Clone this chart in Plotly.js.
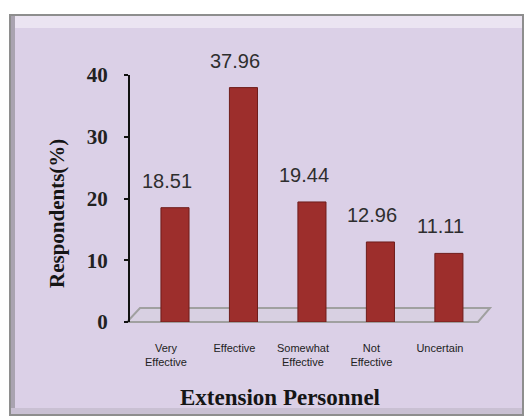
<!DOCTYPE html>
<html>
<head>
<meta charset="utf-8">
<script src="https://cdn.plot.ly/plotly-3.0.1.min.js"></script>
<style>html,body{margin:0;padding:0;background:#fff;}#chart{width:527px;height:419px;}</style>
</head>
<body>
<div id="chart"></div>
<script>
const categories = ["Very<br>Effective", "Effective", "Somewhat<br>Effective", "Not<br>Effective", "Uncertain"];
const values = [18.51, 37.96, 19.44, 12.96, 11.11];
const valueLabels = ["18.51", "37.96", "19.44", "12.96", "11.11"];
const yTicks = [0, 10, 20, 30, 40];
const xTitle = "Extension Personnel";
const yTitle = "Respondents(%)";

// pixel helpers for decoration (figure 527x419; plot area 130..490 x 75..322)
const L = 130, R = 37, T = 75, B = 97, W = 527, H = 419;
const pw = W - L - R, ph = H - T - B;
const px = v => (v - L) / pw;
const py = v => (H - B - v) / ph;

const shapes = [
  {type:'rect', xref:'paper', yref:'paper', x0:px(10), x1:px(523), y0:py(415), y1:py(15),
   fillcolor:'#dbd0e7', line:{color:'#8e8e8e', width:2}, layer:'below'},
  {type:'rect', xref:'paper', yref:'paper', x0:px(11), x1:px(522), y0:py(28), y1:py(16),
   fillcolor:'#ebe4f2', line:{width:0}, layer:'below'},
  {type:'rect', xref:'paper', yref:'paper', x0:px(11), x1:px(15), y0:py(414), y1:py(16),
   fillcolor:'#a9a3b0', line:{width:0}, layer:'below'},
  {type:'rect', xref:'paper', yref:'paper', x0:px(11), x1:px(522), y0:py(414), y1:py(408),
   fillcolor:'#c9c0d3', line:{width:0}, layer:'below'},
  {type:'path', xref:'paper', yref:'paper',
   path:`M ${px(127)} ${py(322)} L ${px(140)} ${py(308)} L ${px(490)} ${py(308)} L ${px(478)} ${py(322)} Z`,
   fillcolor:'#d8d0e2', line:{color:'#a0a0a0', width:2}, layer:'below'}
];

const annotations = values.map((v, i) => ({
  x: categories[i], y: v, xref:'x', yref:'y', text: valueLabels[i], showarrow:false,
  yanchor:'middle', yshift:27, xshift:-8,
  font:{family:'Liberation Sans, Arial, sans-serif', size:20, color:'#2e2e2e'}
}));
annotations.push({
  xref:'paper', yref:'paper', x:px(280), y:py(397), text:'<b>'+xTitle+'</b>', showarrow:false,
  xanchor:'center', yanchor:'middle',
  font:{family:'Liberation Serif, Times New Roman, serif', size:23, color:'#151515'}
});
annotations.push({
  xref:'paper', yref:'paper', x:px(57), y:py(214), text:'<b>'+yTitle+'</b>', showarrow:false,
  textangle:-90, xanchor:'center', yanchor:'middle',
  font:{family:'Liberation Serif, Times New Roman, serif', size:21, color:'#151515'}
});

const trace = {
  type:'bar', x: categories, y: values, width:0.41,
  marker:{color:'#9d2e2c', line:{color:'#6f1d1b', width:1}},
  hoverinfo:'x+y'
};

const layout = {
  width:W, height:H,
  margin:{l:L, r:R, t:T, b:B},
  paper_bgcolor:'#ffffff', plot_bgcolor:'rgba(0,0,0,0)',
  showlegend:false,
  xaxis:{type:'category', range:[-0.657, 4.6], showline:false, showgrid:false, zeroline:false,
    ticks:'', ticklabelstandoff:18, ticklabelshift:-9,
    tickfont:{family:'Liberation Sans, Arial, sans-serif', size:11, color:'#222'}},
  yaxis:{range:[0,40], tickvals:yTicks, showgrid:false, zeroline:false,
    showline:true, linecolor:'#111', linewidth:2, ticks:'outside', ticklen:4, tickwidth:2, tickcolor:'#111',
    ticklabelstandoff:12,
    tickfont:{family:'Liberation Serif, Times New Roman, serif', size:21, color:'#222', weight:'bold'}},
  shapes: shapes,
  annotations: annotations
};

Plotly.newPlot('chart', [trace], layout, {displayModeBar:false, staticPlot:true});
</script>
</body>
</html>
